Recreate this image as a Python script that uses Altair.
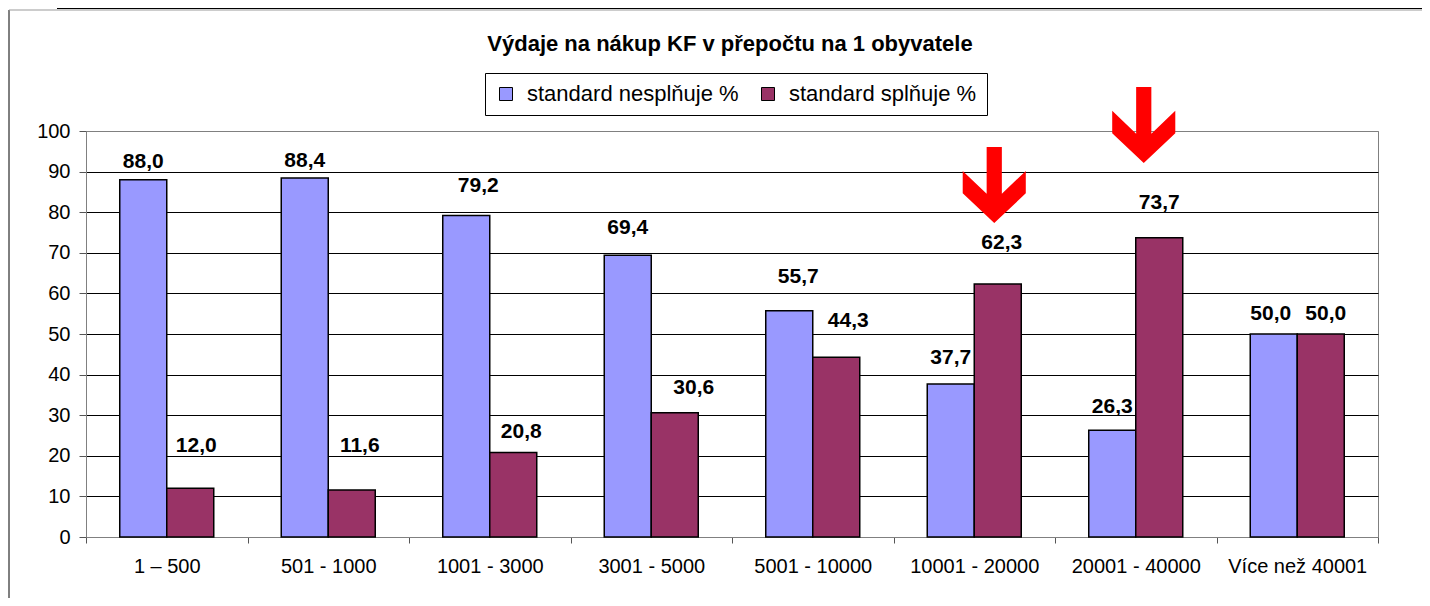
import altair as alt
import pandas as pd

# ---- data ----
categories = ["1 – 500", "501 - 1000", "1001 - 3000", "3001 - 5000",
              "5001 - 10000", "10001 - 20000", "20001 - 40000", "Více než 40001"]
series_names = ["standard nesplňuje %", "standard splňuje %"]
nesplnuje = [88.0, 88.4, 79.2, 69.4, 55.7, 37.7, 26.3, 50.0]
splnuje = [12.0, 11.6, 20.8, 30.6, 44.3, 62.3, 73.7, 50.0]
y_ticks = [0, 10, 20, 30, 40, 50, 60, 70, 80, 90, 100]
title_text = "Výdaje na nákup KF v přepočtu na 1 obyvatele"

# highlighted categories (red arrows) and the level (in axis units) of each arrow
arrow_categories = ["10001 - 20000", "20001 - 40000"]
arrow_levels = [86.7, 101.5]

# ---- layout nudges for the hand-placed data labels (pixels) ----
nesplnuje_label_dx = [0, 0, 12, 0, 9, 0, 0, -3]
nesplnuje_label_lift = [18, 17, 29, 27, 34, 26, 23, 20]
splnuje_label_dx = [6, 8, 8, 19, 12, 4, 0, 5]
splnuje_label_lift = [42, 44, 21, 25, 36, 41, 35, 20]
arrow_dx = [20, 8]

BLUE = "#9999FF"
PLUM = "#993366"
W, H = 1292, 406

rows = []
for i, c in enumerate(categories):
    rows.append(dict(category=c, series=series_names[0], value=nesplnuje[i],
                     ndx=nesplnuje_label_dx[i], ndy=-nesplnuje_label_lift[i]))
    rows.append(dict(category=c, series=series_names[1], value=splnuje[i],
                     ndx=splnuje_label_dx[i], ndy=-splnuje_label_lift[i]))
df = pd.DataFrame(rows)

arrows_df = pd.DataFrame({"category": arrow_categories, "level": arrow_levels,
                          "adx": arrow_dx})

x_enc = alt.X("category:N", sort=categories,
              scale=alt.Scale(paddingInner=0, paddingOuter=0),
              axis=alt.Axis(title=None, labelAngle=0, labelFontSize=20,
                            labelColor="black", tickBand="extent", tickSize=6,
                            tickColor="#555555", domainColor="#808080",
                            labelPadding=13, grid=False, labelLimit=300))
xoff_enc = alt.XOffset("series:N", sort=series_names,
                       scale=alt.Scale(paddingInner=0, paddingOuter=0.718))
y_enc = alt.Y("value:Q",
              scale=alt.Scale(domain=[0, 100], nice=False, zero=True),
              axis=alt.Axis(title=None, values=y_ticks, labelFontSize=20,
                            labelColor="black", tickSize=7, tickColor="#555555",
                            domainColor="#808080", labelPadding=9,
                            grid=True,
                            gridColor={"condition": {"test": "datum.value >= 100 || datum.value <= 0",
                                                     "value": "#808080"},
                                       "value": "#000000"},
                            gridWidth=1))

base = alt.Chart(df).encode(x=x_enc, xOffset=xoff_enc, y=y_enc)

bars = base.mark_bar(stroke="black", strokeWidth=1.5).encode(
    color=alt.Color("series:N", sort=series_names,
                    scale=alt.Scale(domain=series_names, range=[BLUE, PLUM]),
                    legend=alt.Legend(title=None, orient="none", direction="horizontal",
                                      legendX=399, legendY=-58, padding=10,
                                      strokeColor="black", fillColor="white",
                                      symbolType="square", symbolSize=169,
                                      symbolStrokeColor="black", symbolStrokeWidth=1,
                                      symbolOpacity=1, labelLimit=500,
                                      labelFontSize=22, labelColor="black",
                                      labelOffset=10, columnPadding=18,
                                      cornerRadius=0))
)

labels = base.transform_calculate(
    label="replace(format(datum.value, '.1f'), '.', ',')"
).mark_text(fontWeight="bold", fontSize=21, baseline="middle", align="center",
            color="black", dx=alt.expr("datum.ndx"), dy=alt.expr("datum.ndy")
).encode(text="label:N")

arrow_path = ("M -0.2 -1 L 0.2 -1 L 0.2 0.23 L 0.83 -0.37 L 0.83 0.22 "
              "L 0 1 L -0.83 0.22 L -0.83 -0.37 L -0.2 0.23 Z")
arrows = alt.Chart(arrows_df).mark_point(
    shape=arrow_path, filled=True, color="#FF0000", opacity=1, size=5776,
    xOffset=alt.expr("datum.adx")
).encode(x=alt.X("category:N", sort=categories), y=alt.Y("level:Q"))

deco = pd.DataFrame({"k": [0]})
title_mark = alt.Chart(deco).mark_text(
    text=title_text, fontSize=22, fontWeight="bold", color="black",
    align="center", baseline="alphabetic"
).encode(x=alt.value(W / 2 - 2), y=alt.value(-80))
frame_left = alt.Chart(deco).mark_rule(color="black", strokeWidth=1).encode(
    x=alt.value(-77), y=alt.value(-121), y2=alt.value(H + 61))
frame_top = alt.Chart(deco).mark_rule(color="#999999", strokeWidth=1).encode(
    x=alt.value(-77), x2=alt.value(W + 44), y=alt.value(-121))
sheet_line = alt.Chart(deco).mark_rule(color="black", strokeWidth=2).encode(
    x=alt.value(-29), x2=alt.value(W + 44), y=alt.value(-123))

chart = alt.layer(frame_left, frame_top, sheet_line, title_mark,
                  bars, labels, arrows).properties(
    width=W, height=H,
    autosize=alt.AutoSizeParams(type="none"),
    padding={"left": 78, "top": 123, "right": 44, "bottom": 61},
).configure(font="Liberation Sans").configure_view(
    stroke="#808080", strokeWidth=1
)

chart.save("out.html", embed_options={"renderer": "svg", "actions": False})
